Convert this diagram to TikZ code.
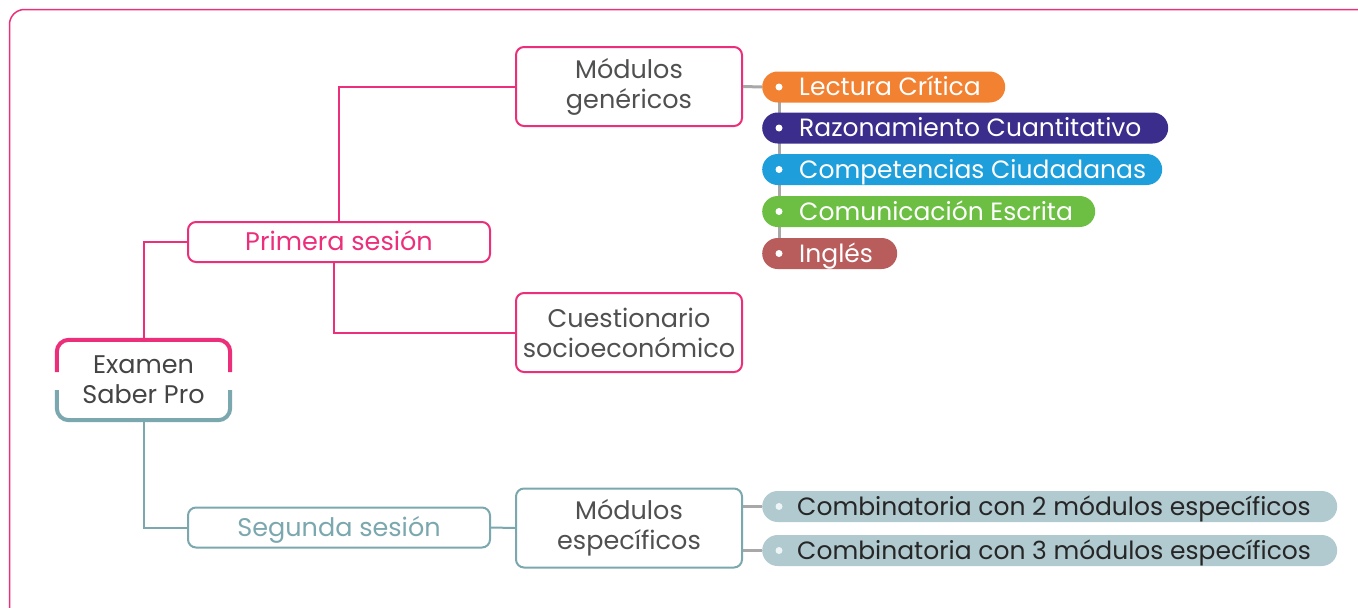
\documentclass[tikz,border=0pt]{standalone}
\usepackage{fontspec}
\setmainfont{Poppins}
\definecolor{cPink}{HTML}{EC2F7B}
\definecolor{cTeal}{HTML}{7BA7AF}
\definecolor{lgray}{HTML}{A8A8A8}
\definecolor{dgray}{HTML}{505050}
\definecolor{cOrange}{HTML}{F28232}
\definecolor{cPurple}{HTML}{3B2D8C}
\definecolor{cBlue}{HTML}{1E9FDB}
\definecolor{cGreen}{HTML}{6CBF43}
\definecolor{cRed}{HTML}{B85C5C}
\definecolor{cLight}{HTML}{B0CAD0}
\newcommand{\pilltxt}[3]{\makebox[#1][l]{\hspace*{#2}#3}}
\begin{document}
\begin{tikzpicture}[x=1pt,y=-1pt,
  txt/.style={font=\fontsize{25.5}{30}\selectfont},
  sbox/.style={draw, rounded corners=8pt, line width=2pt, fill=white, inner sep=0pt, txt},
  bigbox/.style={sbox, align=center, minimum width=226pt, minimum height=79pt, text=dgray},
  sess/.style={sbox, minimum width=302pt, minimum height=40pt, text height=28.5pt, text depth=11.5pt},
  pill/.style={rounded corners=15.5pt, minimum height=31pt, inner sep=0pt, anchor=west, text height=24pt, text depth=7pt, text=white, font=\fontsize{25}{28}\selectfont},
  conn/.style={line width=2pt},
  gconn/.style={line width=3pt, lgray},
  dot/.style={circle, fill=white, minimum size=7pt, inner sep=0pt}
]
\useasboundingbox (0,0) rectangle (1358,608);
\draw[cPink, line width=1.5pt, rounded corners=15pt] (9.5,640) -- (9.5,9.5) -- (1400,9.5);

% gray trunk
\coordinate (trunkTop) at (779,86);
\coordinate (trunkBot) at (779,253);
\draw[gconn] (trunkTop) -- (trunkBot);

% main node
\node[txt, text=dgray!85!black, minimum width=173pt, minimum height=80pt, align=center, inner sep=0pt] (exam) at (143.5,380) {Examen\\Saber Pro};
\draw[cPink, line width=4pt, rounded corners=12pt] ([yshift=8pt]exam.west) -- (exam.north west) -- (exam.north east) -- ([yshift=8pt]exam.east);
\draw[cTeal, line width=4pt, rounded corners=12pt] ([yshift=-10pt]exam.west) -- (exam.south west) -- (exam.south east) -- ([yshift=-10pt]exam.east);

\node[sess, draw=cPink, text=cPink] (prim) at (339,242) {Primera sesión};
\node[sess, draw=cTeal, text=cTeal] (seg) at (339,527.5) {Segunda sesión};

\node[bigbox, draw=cPink] (gen) at (629,86.5) {Módulos\\genéricos};
\node[bigbox, draw=cPink] (cues) at (629,332.5) {Cuestionario\\socioeconómico};
\node[bigbox, draw=cTeal] (esp) at (629,528) {Módulos\\específicos};

% connectors
\draw[conn, cPink] ([xshift=0.5pt,yshift=-2pt]exam.north) |- (prim.west);
\draw[conn, cTeal] ([xshift=0.5pt,yshift=2pt]exam.south) |- (seg.west);
\draw[conn, cPink] (prim.north) |- (gen.west);
\draw[conn, cPink] ([xshift=-5pt]prim.south) |- (cues.west);
\draw[conn, cTeal] (seg.east) -- (esp.west);

% pills
\node[pill, fill=cOrange] (p1) at (762,87) {\pilltxt{243pt}{37pt}{Lectura Crítica}};
\node[pill, fill=cPurple] (p2) at (762,128) {\pilltxt{406pt}{37pt}{Razonamiento Cuantitativo}};
\node[pill, fill=cBlue] (p3) at (762,169.5) {\pilltxt{400pt}{37pt}{Competencias Ciudadanas}};
\node[pill, fill=cGreen] (p4) at (762,211.5) {\pilltxt{333pt}{37pt}{Comunicación Escrita}};
\node[pill, fill=cRed] (p5) at (762,253.5) {\pilltxt{135pt}{37pt}{Inglés}};
\node[pill, fill=cLight, text=black!85] (c1) at (762,506.5) {\pilltxt{575pt}{35pt}{Combinatoria con 2 módulos específicos}};
\node[pill, fill=cLight, text=black!85] (c2) at (762,550.5) {\pilltxt{575pt}{35pt}{Combinatoria con 3 módulos específicos}};

\draw[gconn] (gen.east) -- (p1.west);
\draw[gconn] (esp.east |- c1.west) -- (c1.west);
\draw[gconn] (esp.east |- c2.west) -- (c2.west);

\foreach \p in {p1,p2,p3,p4,p5}
  \node[dot] at ([xshift=17pt]\p.west) {};
\foreach \p in {c1,c2}
  \node[dot, fill=white!80!cLight] at ([xshift=17pt]\p.west) {};
\end{tikzpicture}
\end{document}
